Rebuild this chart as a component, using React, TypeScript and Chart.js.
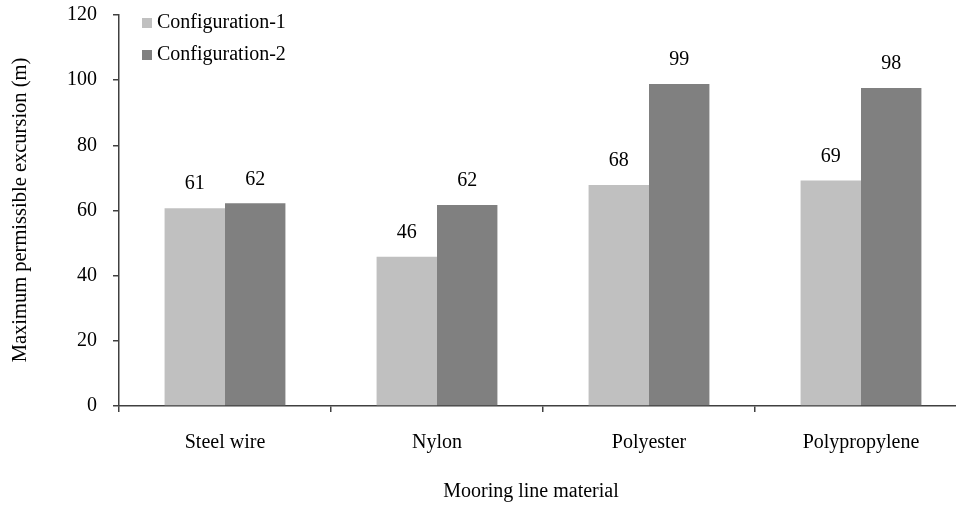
import React, { useEffect, useRef } from "react";
import { Chart, registerables } from "chart.js";

Chart.register(...registerables);

const categories = ["Steel wire", "Nylon", "Polyester", "Polypropylene"];
const config1 = [60.7, 45.8, 67.8, 69.2];
const config2 = [62.2, 61.7, 98.8, 97.6];
const seriesNames = ["Configuration-1", "Configuration-2"];
const seriesColors = ["#C0C0C0", "#808080"];
const yTitle = "Maximum permissible excursion (m)";
const xTitle = "Mooring line material";

const FONT = "'Liberation Serif', 'Times New Roman', serif";
const AXIS = "#404040";

const overlayPlugin = {
  id: "overlay",
  afterDatasetsDraw(chart: any) {
    const ctx = chart.ctx;
    ctx.save();
    ctx.font = `20px ${FONT}`;
    ctx.fillStyle = "#000";
    ctx.textAlign = "center";
    ctx.textBaseline = "middle";
    chart.data.datasets.forEach((ds: any, i: number) => {
      const meta = chart.getDatasetMeta(i);
      meta.data.forEach((bar: any, j: number) => {
        ctx.fillText(String(Math.round(ds.data[j])), bar.x, bar.y - 24);
      });
    });
    // legend
    ctx.textAlign = "left";
    seriesNames.forEach((name, i) => {
      const y = 23 + i * 32;
      ctx.fillStyle = seriesColors[i];
      ctx.fillRect(142, y - 5, 10, 10);
      ctx.fillStyle = "#000";
      ctx.fillText(name, 157, y);
    });
    // axis titles
    ctx.textAlign = "center";
    ctx.fillText(xTitle, 531, 492);
    ctx.save();
    ctx.translate(21, 210);
    ctx.rotate(-Math.PI / 2);
    ctx.font = `20.5px ${FONT}`;
    ctx.fillText(yTitle, 0, 0);
    ctx.restore();
    ctx.restore();
  },
};

export default function App() {
  const ref = useRef<HTMLCanvasElement | null>(null);
  useEffect(() => {
    if (!ref.current) return;
    const chart = new Chart(ref.current, {
      type: "bar",
      data: {
        labels: categories,
        datasets: [
          { label: seriesNames[0], data: config1, backgroundColor: seriesColors[0] },
          { label: seriesNames[1], data: config2, backgroundColor: seriesColors[1] },
        ],
      },
      options: {
        responsive: false,
        animation: false,
        devicePixelRatio: 1,
        layout: { padding: { top: 15, right: 9, left: 0, bottom: 0 } },
        datasets: { bar: { categoryPercentage: 0.57, barPercentage: 1.0 } },
        plugins: { legend: { display: false }, tooltip: { enabled: false } },
        scales: {
          x: {
            grid: { offset: true, drawOnChartArea: false, drawTicks: true, tickLength: 6, color: AXIS, lineWidth: 1.5 },
            border: { color: AXIS, width: 1.5 },
            ticks: { color: "#000", font: { family: FONT, size: 20 }, padding: 19, maxRotation: 0 },
            afterFit: (scale: any) => { scale.height = 100; scale.paddingLeft = 0; scale.paddingRight = 0; },
          },
          y: {
            min: 0,
            max: 120,
            ticks: { stepSize: 20, color: "#000", font: { family: FONT, size: 20 }, padding: 16 },
            grid: { drawOnChartArea: false, drawTicks: true, tickLength: 6, color: AXIS, lineWidth: 1.5 },
            border: { color: AXIS, width: 1.5 },
            afterFit: (scale: any) => { scale.width = 119; scale.paddingTop = 0; scale.paddingBottom = 0; },
          },
        },
      },
      plugins: [overlayPlugin],
    } as any);
    return () => chart.destroy();
  }, []);
  return (
    <div style={{ position: "fixed", left: 0, top: 0, width: 956, height: 506, overflow: "hidden", background: "#fff" }}>
      <canvas ref={ref} width={976} height={506} style={{ width: 976, height: 506, display: "block" }} />
    </div>
  );
}
